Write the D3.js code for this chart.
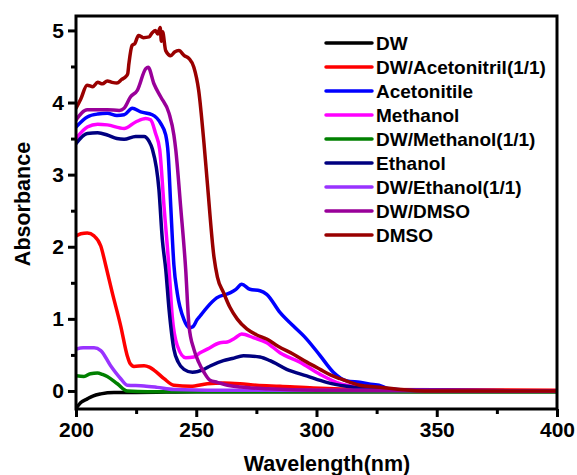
<!DOCTYPE html>
<html><head><meta charset="utf-8">
<script src="https://cdn.jsdelivr.net/npm/d3@7"></script>
<style>body{margin:0;background:#fff}svg{display:block}</style>
</head><body>
<script>
const seriesNames = ["DW","DW/Acetonitril(1/1)","Acetonitile","Methanol","DW/Methanol(1/1)","Ethanol","DW/Ethanol(1/1)","DW/DMSO","DMSO"];
const seriesColors = ["#000000","#ff0000","#0000ff","#ff00ff","#008000","#000080","#9933ff","#990099","#990000"];
const xTicks = [200,250,300,350,400];
const yTicks = [0,1,2,3,4,5];

const dwData = [[200,-0.24],[202,-0.16],[204.7,-0.11],[207,-0.07],[210.3,-0.04],[215.8,-0.02],[225,-0.02],[250,-0.01],[300,-0.01],[400,-0.01]];
const dwAcnData = [[200,2.15],[202,2.18],[204.7,2.19],[207.5,2.15],[210.3,2.01],[212.3,1.75],[215.1,1.36],[218.6,0.90],[221.3,0.49],[222.5,0.38],[224.1,0.34],[228.3,0.35],[230.5,0.33],[232.4,0.29],[236.6,0.17],[240.7,0.08],[247.7,0.065],[254.6,0.10],[261.5,0.11],[268.2,0.10],[275,0.08],[284.8,0.065],[298.7,0.04],[320,0.02],[400,0.01]];
const acnData = [[200,3.66],[204.7,3.80],[209,3.84],[213,3.85],[217,3.82],[220,3.83],[223.4,3.92],[226.9,3.87],[231.7,3.83],[235.2,3.71],[237.3,3.55],[238.3,3.30],[239.4,2.56],[240.7,1.75],[242.1,1.36],[244.9,0.99],[247,0.88],[248.5,0.89],[250.4,0.99],[251.6,1.04],[254.5,1.16],[258.5,1.29],[264,1.36],[266.5,1.41],[268.9,1.48],[272.3,1.41],[276.5,1.39],[279.3,1.34],[284.8,1.09],[290.4,0.90],[295.9,0.72],[301.5,0.49],[307,0.26],[312.6,0.14],[318,0.12],[323.6,0.09],[326,0.08],[330,0.03],[340,0.01],[400,0.0]];
const meohData = [[200,3.50],[204.7,3.66],[209,3.70],[213,3.69],[220,3.64],[224.8,3.73],[229,3.78],[231,3.76],[233.1,3.57],[234.8,3.35],[236.6,2.56],[238.7,1.69],[240,1.04],[242.1,0.63],[245.6,0.46],[249,0.47],[251.6,0.53],[254.6,0.58],[259.9,0.67],[262.9,0.68],[266,0.73],[268.9,0.79],[273.7,0.74],[279.3,0.67],[284.8,0.53],[293.1,0.40],[301.5,0.23],[309.8,0.10],[318,0.05],[330,0.01],[400,0.0]];
const dwMeohData = [[200,0.21],[203.3,0.20],[206,0.24],[208.9,0.25],[211,0.23],[213,0.20],[217.2,0.10],[221.3,0.0],[230,-0.01],[400,-0.01]];
const etohData = [[200,3.43],[204.7,3.57],[209,3.58],[213,3.55],[217,3.50],[220,3.49],[224.8,3.53],[228.3,3.53],[230.4,3.46],[231.7,3.36],[234.5,2.79],[235.9,2.10],[237.3,1.69],[238.7,1.13],[240.7,0.58],[242.5,0.40],[244.9,0.30],[248.4,0.26],[253.2,0.30],[256,0.35],[261.3,0.42],[265,0.45],[269.6,0.49],[276.5,0.47],[280.7,0.42],[287.6,0.30],[295.9,0.21],[304.2,0.12],[312.6,0.065],[320.9,0.03],[335,0.01],[400,0.0]];
const dwEtohData = [[200,0.58],[203,0.60],[207.5,0.60],[210.3,0.56],[214.4,0.35],[218.6,0.17],[221.3,0.08],[228.3,0.07],[233.8,0.05],[240.7,0.02],[260,0.01],[400,0.0]];
const dwDmsoData = [[200,3.76],[204.7,3.90],[213,3.90],[218,3.89],[220,3.92],[222.7,4.08],[225.5,4.17],[229,4.47],[230,4.49],[232.4,4.26],[235.2,4.08],[238.7,3.85],[240.7,3.55],[241.5,3.34],[243.5,2.56],[245.6,1.69],[247,0.90],[249,0.58],[251,0.40],[253.2,0.26],[255.7,0.15],[258.8,0.12],[263,0.08],[268.5,0.055],[280,0.03],[300,0.01],[400,0.0]];
const dmsoData = [[200,3.92],[202,4.05],[204.6,4.24],[207,4.22],[209,4.28],[211,4.26],[213,4.30],[215,4.28],[217,4.27],[219,4.32],[220.7,4.36],[221.5,4.40],[222,4.54],[223.3,4.79],[224.5,4.82],[226,4.93],[228,4.90],[230.4,4.91],[231.5,4.96],[233,5.0],[234,4.95],[235,5.04],[235.5,4.85],[236,4.98],[237.3,4.72],[239.4,4.65],[241,4.70],[242.8,4.72],[245,4.65],[247,4.61],[249,4.49],[251,4.17],[253.2,3.44],[254.6,2.89],[257.4,1.85],[258.8,1.58],[261.4,1.36],[264,1.16],[267,1.0],[271,0.86],[275,0.78],[279.3,0.72],[284,0.62],[290.4,0.51],[296,0.40],[301.5,0.30],[306,0.22],[309.8,0.17],[314,0.12],[318,0.08],[325,0.055],[335,0.02],[345,0.0],[400,0.0]];

const allData = [dwData,dwAcnData,acnData,meohData,dwMeohData,etohData,dwEtohData,dwDmsoData,dmsoData];

const W = 577, H = 475;
const margin = {left:76, right:20, top:16, bottom:66};
const svg = d3.select("body").append("svg").attr("width",W).attr("height",H);
const x = d3.scaleLinear().domain([200,400]).range([margin.left, W-margin.right]);
const y = d3.scaleLinear().domain([-0.25,5.2]).range([H-margin.bottom, margin.top]);
const font = "'Liberation Sans', Arial, sans-serif";

svg.append("clipPath").attr("id","clip").append("rect")
  .attr("x",margin.left).attr("y",margin.top)
  .attr("width",W-margin.right-margin.left).attr("height",H-margin.bottom-margin.top);

const line = d3.line().x(d=>x(d[0])).y(d=>y(d[1])).curve(d3.curveMonotoneX);
const g = svg.append("g").attr("clip-path","url(#clip)");
allData.forEach((data,i)=>{
  g.append("path").datum(data).attr("d",line)
    .attr("fill","none").attr("stroke",seriesColors[i]).attr("stroke-width",3.5)
    .attr("stroke-linejoin","round").attr("stroke-linecap","round");
});

const xAxis = d3.axisBottom(x).tickValues(xTicks).tickSize(8).tickPadding(5).tickFormat(d3.format("d"));
const xMinor = d3.axisBottom(x).tickValues([225,275,325,375]).tickSize(5).tickFormat("");
const yAxis = d3.axisLeft(y).tickValues(yTicks).tickSize(8).tickPadding(4).tickFormat(d3.format("d"));
const yMinor = d3.axisLeft(y).tickValues([0.5,1.5,2.5,3.5,4.5]).tickSize(5).tickFormat("");

function styleAxis(sel){
  sel.select(".domain").remove();
  sel.selectAll(".tick line").attr("stroke","#000").attr("stroke-width",3);
  sel.selectAll(".tick text").attr("font-family",font).attr("font-weight","bold").attr("font-size",21).attr("fill","#000");
}
svg.append("g").attr("transform",`translate(0,${H-margin.bottom})`).call(xAxis).call(styleAxis);
svg.append("g").attr("transform",`translate(0,${H-margin.bottom})`).call(xMinor).call(styleAxis);
svg.append("g").attr("transform",`translate(${margin.left},0)`).call(yAxis).call(styleAxis);
svg.append("g").attr("transform",`translate(${margin.left},0)`).call(yMinor).call(styleAxis);

svg.append("rect").attr("x",margin.left).attr("y",margin.top)
  .attr("width",W-margin.right-margin.left).attr("height",H-margin.bottom-margin.top)
  .attr("fill","none").attr("stroke","#000").attr("stroke-width",3);

svg.append("text").attr("x",327).attr("y",471).attr("text-anchor","middle")
  .attr("font-family",font).attr("font-weight","bold").attr("font-size",21.5).text("Wavelength(nm)");
svg.append("text").attr("transform","translate(30,204) rotate(-90)").attr("text-anchor","middle")
  .attr("font-family",font).attr("font-weight","bold").attr("font-size",21.5).text("Absorbance");

const leg = svg.append("g");
seriesNames.forEach((name,i)=>{
  const yy = 43 + i*24;
  leg.append("line").attr("x1",326).attr("x2",372).attr("y1",yy).attr("y2",yy)
    .attr("stroke",seriesColors[i]).attr("stroke-width",3.5).attr("stroke-linecap","round");
  leg.append("text").attr("x",376).attr("y",yy).attr("dy","0.36em")
    .attr("font-family",font).attr("font-weight","bold").attr("font-size",19).text(name);
});
</script>
</body></html>
